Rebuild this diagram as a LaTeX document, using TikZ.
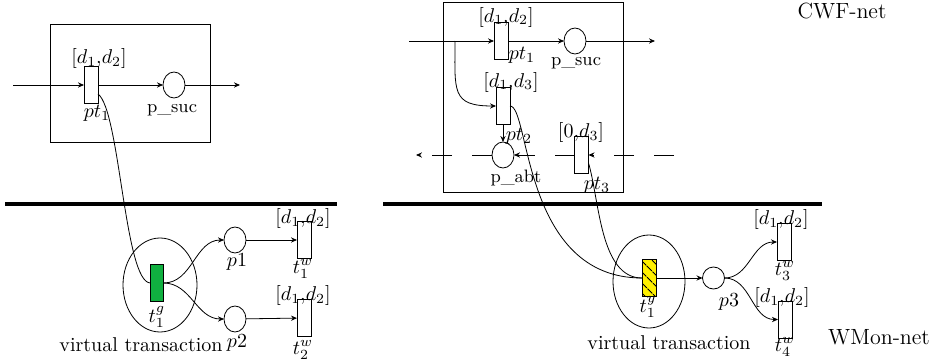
\documentclass[tikz,border=0pt]{standalone}
\usepackage{amsmath}
\usepackage{amssymb}
\usepackage{tikz}
\usetikzlibrary{shapes, arrows.meta, patterns.meta, calc}

\definecolor{trgreen}{RGB}{16,176,64}
\definecolor{tryellow}{RGB}{255,240,0}

\tikzset{
    tnode/.style={draw, rectangle, minimum width=7pt, minimum height=18.5pt, inner sep=0pt},
    pnode/.style={draw, ellipse, minimum width=11pt, minimum height=13pt, inner sep=0pt},
    flow/.style={-{Stealth[length=3pt,width=2.6pt]}},
    abort/.style={flow, dash pattern=on 10pt off 10pt},
    netname/.style={font=\fontsize{11}{13}\selectfont}
}

\begin{document}
\begin{tikzpicture}[x=0.5pt, y=-0.5pt, every node/.style={outer sep=0pt, inner sep=0.5pt}]
    \useasboundingbox (0,0) rectangle (949,364);

    % CWF-net, left part
    \draw (50,24) rectangle (210,142);
    \node[tnode] (lpt1) at (91,85) {};
    \node[pnode] (lsuc) at (174,85) {};
    \coordinate (lin) at (13,85);
    \coordinate (lout) at (240,85);
    \draw[flow] (lin) -- (lpt1);
    \draw[flow] (lpt1) -- (lsuc);
    \draw[flow] (lsuc) -- (lout);
    \node (lpt1d) at (99,58) {$[d_1{,}d_2]$};
    \node (lpt1l) at (97,113) {$pt_1$};
    \node (lsucl) at (172,110) {\small p\_suc};

    % Separator, left
    \draw[line width=1.6pt] (5,204) -- (337,204);

    % WMon-net, left part
    \draw (160,285) ellipse [x radius=18.5pt, y radius=23.5pt];
    \node[tnode, fill=trgreen, minimum width=6.5pt] (tg) at (157,283) {};
    \node (tgl) at (157,317) {$t_1^g$};
    \node (lvt) at (141,345) {virtual transaction};
    \node[pnode] (p1) at (235,240) {};
    \node[pnode] (p2) at (235,319) {};
    \node (p1l) at (237,262) {$p1$};
    \node (p2l) at (237,343) {$p2$};
    \node[tnode] (t1w) at (304,240) {};
    \node[tnode] (t2w) at (304,318) {};
    \node (t1wd) at (303,218) {$[d_1{,}d_2]$};
    \node (t2wd) at (303,295) {$[d_1{,}d_2]$};
    \node (t1wl) at (303,269) {$t_1^w$};
    \node (t2wl) at (303,350) {$t_2^w$};
    \draw ([yshift=-4.5pt]lpt1.east) .. controls +(22,16) and +(-26,0) .. (tg.west);
    \draw[flow] (tg.east) to[out=0, in=180] (p1.west);
    \draw[flow] (tg.east) to[out=0, in=180] (p2.west);
    \draw[flow] (p1) -- (t1w);
    \draw[flow] (p2) -- (t2w);

    % CWF-net, right part
    \draw (443,2) rectangle (623,192);
    \node[tnode] (rpt1) at (501,41) {};
    \node[pnode] (rsuc) at (575,41) {};
    \node[tnode] (rpt2) at (503,106) {};
    \node[pnode] (pabt) at (503,155) {};
    \node[tnode] (rpt3) at (581.5,155) {};
    \coordinate (rin) at (409,41);
    \coordinate (rbr) at (455,41);
    \coordinate (rout) at (655,41);
    \coordinate (dright) at (674,155);
    \coordinate (dleft) at (416,155);
    \draw[flow] (rin) -- (rpt1);
    \draw[flow] (rpt1) -- (rsuc);
    \draw[flow] (rsuc) -- (rout);
    \draw[flow] (rbr) .. controls +(0,50) and +(-45,0) .. (rpt2.west);
    \draw[flow] (rpt2) -- (pabt);
    \draw[abort] (dright) -- (rpt3.east);
    \draw[abort] (rpt3.west) -- (pabt.east);
    \draw[abort] (pabt.west) -- (dleft);
    \node (rpt1d) at (506,17) {$[d_1{,}d_2]$};
    \node (rpt1l) at (522,55) {$pt_1$};
    \node (rsucl) at (576,63) {\small p\_suc};
    \node (rpt2d) at (511,82) {$[d_1{,}d_3]$};
    \node (rpt2l) at (519,136) {$pt_2$};
    \node (pabtl) at (516,178) {\small p\_abt};
    \node (rpt3d) at (581,132) {$[0{,}d_3]$};
    \node (rpt3l) at (597,185) {$pt_3$};
    \node[netname] (cwf) at (842,11) {CWF-net};

    % Separator, right
    \draw[line width=1.6pt] (383,204) -- (822,204);

    % WMon-net, right part
    \draw (649,281.5) ellipse [x radius=18pt, y radius=23.25pt];
    \node[tnode, preaction={fill=tryellow}, pattern={Lines[angle=-45, distance=4pt, line width=0.6pt]}] (ty) at (649,278) {};
    \node (tyl) at (648,307) {$t_1^y$};
    \node (rvt) at (669,343) {virtual transaction};
    \node[pnode, minimum height=11pt] (p3) at (713.5,278) {};
    \node (p3l) at (729,302) {$p3$};
    \node[tnode] (t3w) at (784,242) {};
    \node[tnode] (t4w) at (785,319.5) {};
    \node (t3wd) at (781,219) {$[d_1{,}d_2]$};
    \node (t4wd) at (782,297) {$[d_1{,}d_2]$};
    \node (t3wl) at (785,271) {$t_3^w$};
    \node (t4wl) at (785,347) {$t_4^w$};
    \node[netname] (wmon) at (879,337) {WMon-net};
    \draw (rpt2.east) .. controls +(20,0) and +(-120,0) .. (ty.west);
    \draw ([yshift=-4pt]rpt3.east) .. controls +(11,37) and +(-42,0) .. (ty.west);
    \draw[flow] (ty) -- (p3);
    \draw[flow] (p3.east) to[out=0, in=180] (t3w.west);
    \draw[flow] (p3.east) to[out=0, in=180] (t4w.west);
\end{tikzpicture}
\end{document}
